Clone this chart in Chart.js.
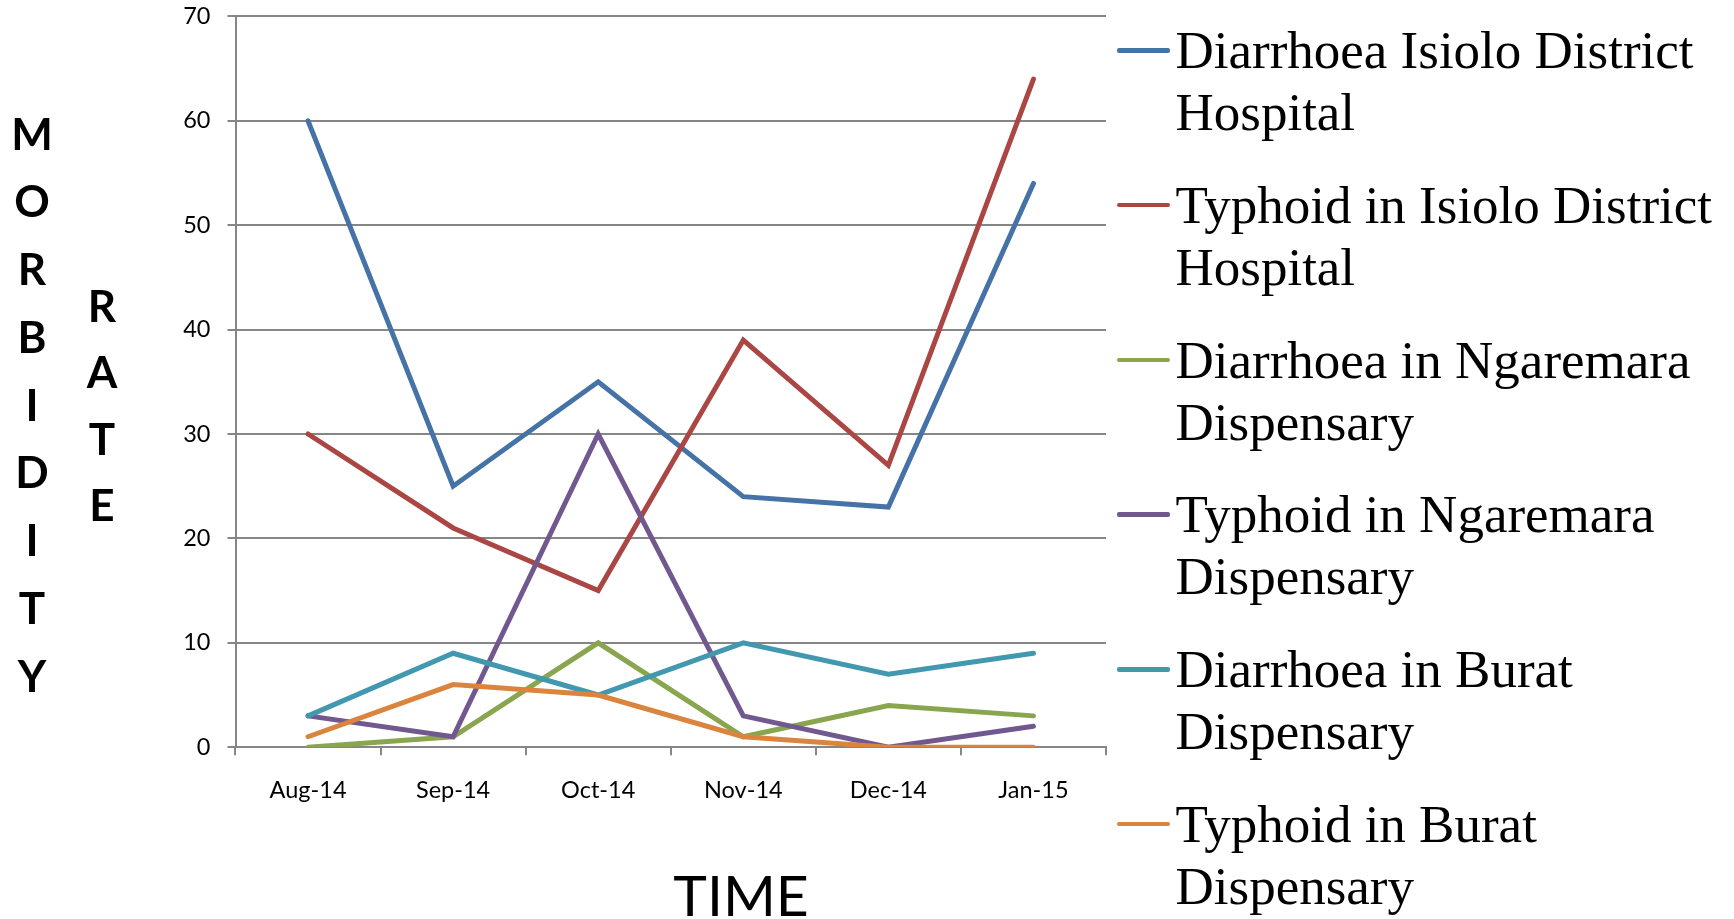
<!DOCTYPE html>
<html>
<head>
<meta charset="utf-8">
<title>Morbidity rate</title>
<script src="https://cdn.jsdelivr.net/npm/chart.js@4.4.1/dist/chart.umd.min.js"></script>
<style>
  body { margin: 0; background: #fff; overflow: hidden; }
  #wrap { position: relative; width: 1734px; height: 919px; }
  #chart { position: absolute; left: 0; top: 0; }
  .vtitle { position: absolute; width: 64px; text-align: center; color: #000;
            font-family: Lato, "Open Sans", sans-serif; font-weight: 700; font-size: 44px; }
  #ttl-morbidity { left: 0; top: 99.5px; line-height: 67.8px; }
  #ttl-rate { left: 70px; top: 272px; line-height: 66.3px; }
  #ttl-time { position: absolute; left: 591px; top: 866px; width: 300px; text-align: center; color: #000;
              font-family: Lato, "Open Sans", sans-serif; font-size: 57px; line-height: 57px; }
  #legend { position: absolute; left: 1117px; top: 19px; }
  .lg-item { display: flex; height: 124px; margin-bottom: 30.8px; }
  .lg-line { flex: none; width: 53px; height: 4.5px; border-radius: 2px; margin-top: 29px; margin-right: 5.5px; }
  .lg-text { font-family: "Liberation Serif", "Times New Roman", serif; font-size: 53px; line-height: 62px;
             white-space: nowrap; color: #000; }
</style>
</head>
<body>
<div id="wrap">
  <canvas id="chart" width="1734" height="919"></canvas>
  <div class="vtitle" id="ttl-morbidity">M<br>O<br>R<br>B<br>I<br>D<br>I<br>T<br>Y</div>
  <div class="vtitle" id="ttl-rate">R<br>A<br>T<br>E</div>
  <div id="ttl-time">TIME</div>
  <div id="legend"></div>
</div>
<script>
const months = ['Aug-14', 'Sep-14', 'Oct-14', 'Nov-14', 'Dec-14', 'Jan-15'];

// legend text, split where the original wraps
const seriesNames = [
  ['Diarrhoea Isiolo District', 'Hospital'],
  ['Typhoid in Isiolo District', 'Hospital'],
  ['Diarrhoea in Ngaremara', 'Dispensary'],
  ['Typhoid in Ngaremara', 'Dispensary'],
  ['Diarrhoea in Burat', 'Dispensary'],
  ['Typhoid in Burat', 'Dispensary']
];
const seriesColors = ['#4572A7', '#AA4643', '#89A54E', '#71588F', '#4198AF', '#DB843D'];

const diarrhoeaIsiolo   = [60, 25, 35, 24, 23, 54];
const typhoidIsiolo     = [30, 21, 15, 39, 27, 64];
const diarrhoeaNgaremara = [0, 1, 10, 1, 4, 3];
const typhoidNgaremara  = [3, 1, 30, 3, 0, 2];
const diarrhoeaBurat    = [3, 9, 5, 10, 7, 9];
const typhoidBurat      = [1, 6, 5, 1, 0, 0];

const yMin = 0, yMax = 70, yStep = 10;

const seriesValues = [diarrhoeaIsiolo, typhoidIsiolo, diarrhoeaNgaremara, typhoidNgaremara, diarrhoeaBurat, typhoidBurat];

const gridGrey = '#868686';
const tickFont = { family: 'Lato, "Open Sans", sans-serif', size: 23.5 };

const datasets = seriesValues.map((vals, i) => ({
  label: seriesNames[i].join(' '),
  data: vals,
  borderColor: seriesColors[i],
  backgroundColor: seriesColors[i],
  borderWidth: 5,
  borderCapStyle: 'round',
  tension: 0,
  pointRadius: 0,
  fill: false,
  order: seriesValues.length - i   // later series on top, like the original
}));

const chart = new Chart(document.getElementById('chart').getContext('2d'), {
  type: 'line',
  data: { labels: months, datasets },
  options: {
    responsive: false,
    animation: false,
    layout: { padding: { left: 155.5, right: 628, top: 16.4, bottom: 111.8 } },
    plugins: { legend: { display: false }, tooltip: { enabled: false } },
    scales: {
      x: {
        offset: true,
        grid: { display: true, drawOnChartArea: false, offset: true, color: gridGrey, lineWidth: 2, tickLength: 8 },
        border: { display: true, color: gridGrey, width: 2 },
        ticks: { color: '#000', font: tickFont, padding: 21, maxRotation: 0 },
        afterFit: s => { s.height = 60; }
      },
      y: {
        min: yMin, max: yMax,
        grid: { color: gridGrey, lineWidth: 2, tickLength: 8 },
        border: { display: true, color: gridGrey, width: 2 },
        ticks: { stepSize: yStep, color: '#000', font: tickFont, padding: 17 },
        // fixed width, and let the layout padding alone set the top of the plot
        afterFit: s => { s.width = 80; s.paddingTop = 0; s.paddingBottom = 0; }
      }
    }
  }
});

// legend built from the chart's own datasets
document.getElementById('legend').innerHTML = chart.data.datasets.map((ds, i) => `
  <div class="lg-item">
    <span class="lg-line" style="background:${ds.borderColor}"></span>
    <div class="lg-text">${seriesNames[i].join('<br>')}</div>
  </div>`).join('');
</script>
</body>
</html>
